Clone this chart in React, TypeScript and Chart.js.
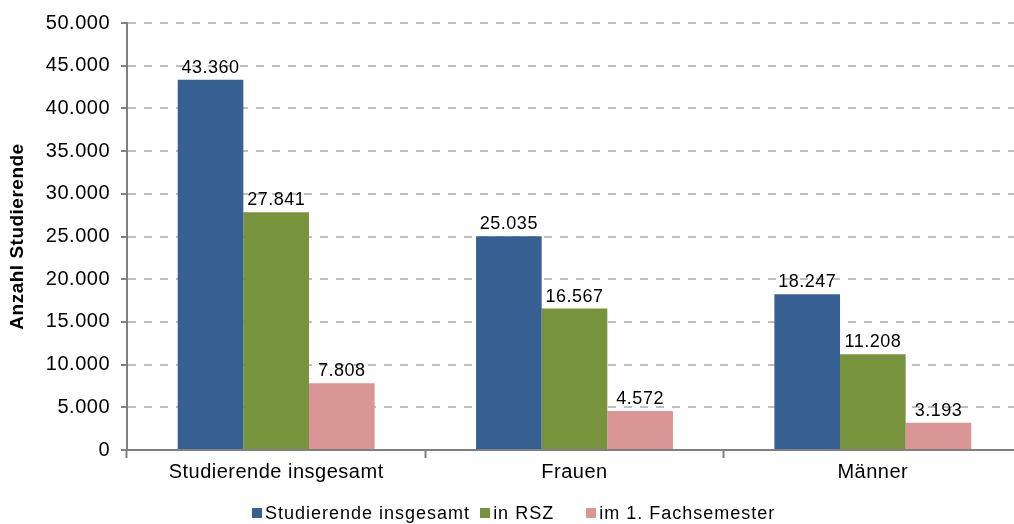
import React, { useEffect, useRef } from 'react';
import { Chart, registerables } from 'chart.js';

Chart.register(...registerables);

const categories = ['Studierende insgesamt', 'Frauen', 'Männer'];
const seriesNames = ['Studierende insgesamt', 'in RSZ', 'im 1. Fachsemester'];
const insgesamt = [43360, 25035, 18247];
const inRSZ = [27841, 16567, 11208];
const ersteFachsemester = [7808, 4572, 3193];
const seriesColors = ['#376092', '#77933C', '#D99694'];
const yMin = 0;
const yMax = 50000;
const yStep = 5000;
const yTitle = 'Anzahl Studierende';

const FONT = '"Liberation Sans", Arial, sans-serif';

const fmt = (v: number) => String(v).replace(/\B(?=(\d{3})+(?!\d))/g, '.');

const spacingPlugin = {
  id: 'letterSpacing',
  beforeLayout(chart: any) {
    (chart.ctx as any).letterSpacing = '0.5px';
  },
  beforeDraw(chart: any) {
    (chart.ctx as any).letterSpacing = '0.5px';
  },
};

const valueLabels = {
  id: 'valueLabels',
  afterDatasetsDraw(chart: any) {
    const ctx = chart.ctx;
    ctx.save();
    ctx.font = `18px ${FONT}`;
    ctx.fillStyle = '#000';
    ctx.textAlign = 'center';
    ctx.textBaseline = 'alphabetic';
    chart.data.datasets.forEach((ds: any, i: number) => {
      const meta = chart.getDatasetMeta(i);
      meta.data.forEach((el: any, j: number) => {
        ctx.fillText(fmt(ds.data[j]), el.x, el.y - 7);
      });
    });
    ctx.restore();
  },
};

const legendGaps = [0, 10, 32];

export default function App() {
  const ref = useRef<HTMLCanvasElement>(null);
  useEffect(() => {
    if (!ref.current) return;
    const data = [insgesamt, inRSZ, ersteFachsemester];
    const chart = new Chart(ref.current, {
      type: 'bar',
      data: {
        labels: categories,
        datasets: seriesNames.map((name, i) => ({
          label: name,
          data: data[i],
          backgroundColor: seriesColors[i],
          borderWidth: 0,
          categoryPercentage: 0.66,
          barPercentage: 1,
        })),
      },
      options: {
        animation: false,
        responsive: true,
        maintainAspectRatio: false,
        layout: { padding: { top: 12, right: 0, left: 0, bottom: 0 } },
        plugins: {
          tooltip: { enabled: false },
          legend: { display: false },
        },
        scales: {
          x: {
            grid: {
              display: true,
              offset: true,
              drawOnChartArea: false,
              drawTicks: true,
              tickLength: 8,
              tickColor: '#808080',
              tickWidth: 2,
            },
            border: { display: true, color: '#808080', width: 2 },
            ticks: {
              color: '#000',
              padding: 2,
              font: { family: FONT, size: 20 },
              maxRotation: 0,
            },
          },
          y: {
            min: yMin,
            max: yMax,
            afterFit: (scale: any) => {
              scale.width = 127;
            },
            ticks: {
              stepSize: yStep,
              color: '#000',
              padding: 11,
              font: { family: FONT, size: 20 },
              callback: (v: any) => fmt(Number(v)),
            },
            grid: {
              color: '#BFBFBF',
              lineWidth: 2,
              drawTicks: true,
              tickLength: 6,
              tickColor: '#808080',
              tickWidth: 2,
              tickBorderDash: [],
            },
            border: { display: true, color: '#808080', width: 2, dash: [8, 8] },
            title: {
              display: true,
              text: yTitle,
              color: '#000',
              font: { family: FONT, size: 19, weight: 'bold' },
              padding: { top: 6, bottom: 0 },
            },
          },
        },
      },
      plugins: [spacingPlugin, valueLabels],
    } as any);
    return () => chart.destroy();
  }, []);

  return (
    <div style={{ position: 'fixed', left: 0, top: 0, width: 1022, height: 524 }}>
      <div style={{ position: 'absolute', left: 0, top: 0, width: 1022, height: 486 }}>
        <canvas ref={ref} />
      </div>
      <div
        style={{
          position: 'absolute',
          left: 252,
          top: 502,
          height: 22,
          display: 'flex',
          justifyContent: 'flex-start',
          alignItems: 'center',
          fontFamily: FONT,
          fontSize: 18,
          letterSpacing: '1px',
          color: '#000',
          lineHeight: '22px',
          whiteSpace: 'nowrap',
        }}
      >
        {seriesNames.map((name, i) => (
          <div key={name} style={{ display: 'flex', alignItems: 'center', marginLeft: legendGaps[i] }}>
            <span
              style={{
                display: 'inline-block',
                width: 10,
                height: 10,
                background: seriesColors[i],
                marginRight: 3,
              }}
            />
            <span>{name}</span>
          </div>
        ))}
      </div>
    </div>
  );
}
